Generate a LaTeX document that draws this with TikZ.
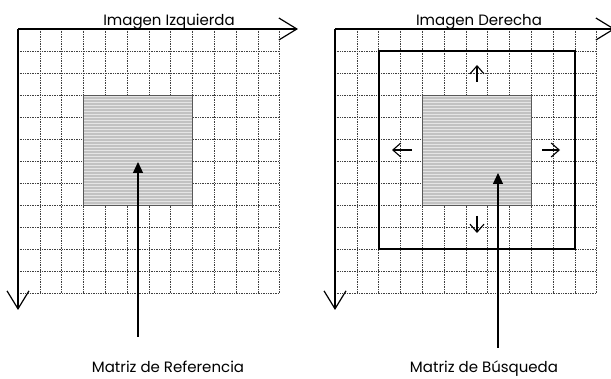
\documentclass[tikz,border=0pt]{standalone}
\usepackage{fontspec}
\setmainfont{Poppins}
\usetikzlibrary{arrows.meta, calc, patterns}

\begin{document}
\begin{tikzpicture}[x=1pt, y=-1pt,
  font=\fontsize{15}{17}\selectfont,
  label/.style={inner sep=0pt, anchor=base},
  gridline/.style={black!75, line width=0.6pt, dash pattern=on 0.8pt off 0.9pt},
  axis/.style={line width=1.2pt, -{Straight Barb[length=18pt, width=22pt, line width=1.2pt]}},
  refbox/.style={draw=black!65, line width=0.9pt, preaction={fill=black!24},
    pattern=horizontal lines, pattern color=black!10},
  searchbox/.style={draw=black, line width=1.8pt},
  bigarrow/.style={line width=1.2pt, -{Triangle[length=11pt, width=10pt]}},
  shiftarrow/.style={line width=1.1pt, -{Straight Barb[length=8pt, width=14pt, line width=1.1pt]}}]
\useasboundingbox (0,0) rectangle (611,379);

% left image: grid, reference matrix and axes
\coordinate (LO) at (18,29);
\foreach \i in {1,...,12}
  \draw[gridline] ($(LO)+(\i*21.8,0)$) -- ++(0,264);
\foreach \j in {1,...,12}
  \draw[gridline] ($(LO)+(0,\j*22)$) -- ++(261.6,0);
\draw[refbox] ($(LO)+(3*21.8,3*22)$) rectangle ++(5*21.8,5*22);
\draw[axis] (LO) -- (298,29);
\draw[axis] (LO) -- (18,310);

\node[label] (titleL) at (169,26) {Imagen Izquierda};
\node[label] (refL) at (168,372.5) {Matriz de Referencia};
\coordinate (refLtail) at (138,337);
\coordinate (refLtip) at (138,162);
\draw[bigarrow] (refLtail) -- (refLtip);

% right image: grid, search window, matrix and axes
\coordinate (RO) at (335,29);
\foreach \i in {1,...,12}
  \draw[gridline] ($(RO)+(\i*21.8,0)$) -- ++(0,264);
\foreach \j in {1,...,12}
  \draw[gridline] ($(RO)+(0,\j*22)$) -- ++(261.6,0);
\draw[searchbox] ($(RO)+(2*21.8,22)$) rectangle ++(9*21.8,9*22);
\draw[refbox] ($(RO)+(4*21.8,3*22)$) rectangle ++(5*21.8,5*22);
\draw[axis] (RO) -- (615,29);
\draw[axis] (RO) -- (335,310);

% directions of the search
\draw[shiftarrow] (477,82) -- (477,65);
\draw[shiftarrow] (477,216) -- (477,233);
\draw[shiftarrow] (412,150) -- (392,150);
\draw[shiftarrow] (542,150) -- (560,150);

\node[label] (titleR) at (479,26) {Imagen Derecha};
\node[label] (refR) at (484,372.5) {Matriz de Búsqueda};
\coordinate (refRtail) at (498,348);
\coordinate (refRtip) at (498,173);
\draw[bigarrow] (refRtail) -- (refRtip);

\end{tikzpicture}
\end{document}
